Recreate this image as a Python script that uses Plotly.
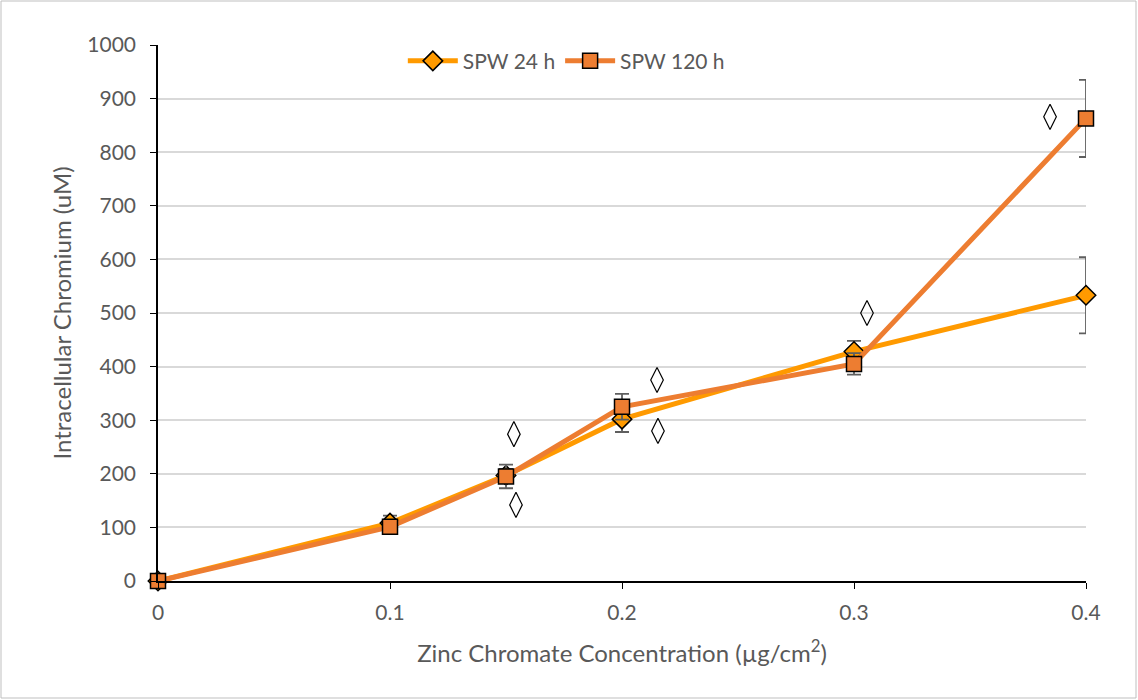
import plotly.graph_objects as go

conc = [0, 0.1, 0.15, 0.2, 0.3, 0.4]
spw24 = [0, 108, 197, 302, 428, 533]
spw24_err = [3, 14, 12, 24, 20, 71]
spw120 = [0, 101, 195, 325, 405, 863]
spw120_err = [3, 12, 22, 24, 20, 72]
sig_x = [0.1534, 0.1543, 0.2151, 0.2155, 0.3056, 0.3845]
sig_y = [274, 142, 375, 280, 500, 866]
x_ticks = [0, 0.1, 0.2, 0.3, 0.4]
x_tick_labels = ["0", "0.1", "0.2", "0.3", "0.4"]

FONT = "Lato, Calibri, Carlito, sans-serif"
GRAY = "#595959"

fig = go.Figure()
fig.add_trace(go.Scatter(
    x=conc, y=spw24, name="SPW 24 h", mode="lines+markers", cliponaxis=False,
    line=dict(color="#FF9A00", width=5),
    marker=dict(symbol="diamond", size=15, color="#FF9A00", line=dict(color="black", width=1.5)),
    error_y=dict(type="data", array=spw24_err, visible=True, color="#5f5f5f", thickness=1.8, width=7),
))
fig.add_trace(go.Scatter(
    x=conc, y=spw120, name="SPW 120 h", mode="lines+markers", cliponaxis=False,
    line=dict(color="#ED7D31", width=5),
    marker=dict(symbol="square", size=15, color="#ED7D31", line=dict(color="black", width=1.5)),
    error_y=dict(type="data", array=spw120_err, visible=True, color="#5f5f5f", thickness=1.8, width=7),
))
fig.add_trace(go.Scatter(
    x=sig_x, y=sig_y, mode="markers", showlegend=False, cliponaxis=False,
    marker=dict(symbol="diamond-tall-open", size=18, color="black", line=dict(width=1.2)),
))

W, H = 1138, 700
L, R, T, B = 158, 52, 45, 119
pw, ph = W - L - R, H - T - B

fig.update_layout(
    width=W, height=H,
    margin=dict(l=L, r=R, t=T, b=B),
    paper_bgcolor="white", plot_bgcolor="white",
    font=dict(family=FONT, size=21, color=GRAY),
    showlegend=True,
    legend=dict(orientation="h", x=0.44, xanchor="center", y=1.008, yanchor="top",
                bgcolor="rgba(255,255,255,0)", font=dict(size=21, color=GRAY),
                itemwidth=50, traceorder="normal"),
    xaxis=dict(range=[0, 0.4], tickvals=x_ticks, ticktext=x_tick_labels,
               showgrid=False, zeroline=False, showline=True, linecolor="black", linewidth=1.5,
               ticks="outside", ticklen=6, tickcolor="black", tickfont=dict(size=21),
               ticklabelstandoff=6,
               title=dict(text="Zinc Chromate Concentration (µg/cm<sup>2</sup>)", font=dict(size=24, color=GRAY), standoff=22)),
    yaxis=dict(range=[0, 1000], dtick=100, showgrid=True, gridcolor="#D9D9D9", gridwidth=1.5,
               zeroline=False, showline=True, linecolor="black", linewidth=1.5,
               ticks="outside", ticklen=6, tickcolor="black", tickfont=dict(size=21),
               ticklabelstandoff=10,
               title=dict(text="Intracellular Chromium (uM)", font=dict(size=24, color=GRAY), standoff=9)),
    shapes=[dict(type="rect", xref="paper", yref="paper",
                 x0=(1 - L) / pw, x1=(W - 2 - L) / pw,
                 y0=-(B - 2) / ph, y1=(ph + T - 1) / ph,
                 line=dict(color="#BFBFBF", width=1), fillcolor="rgba(0,0,0,0)", layer="below")],
)

fig.write_html("out.html", config={"displayModeBar": False},
               post_script="document.body.style.margin='0';")
